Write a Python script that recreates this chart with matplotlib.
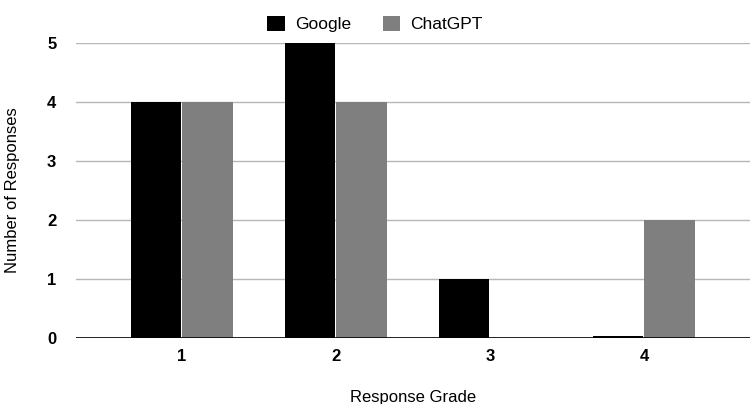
import numpy as np
import matplotlib.pyplot as plt

plt.rcParams['font.family'] = ['Liberation Sans', 'DejaVu Sans']

grades = ['1', '2', '3', '4']
google = [4, 5, 1, 0]
chatgpt = [4, 4, 0, 2]

fig = plt.figure(figsize=(7.5, 4.04), dpi=100)
ax = fig.add_axes([0.101, 0.163, 0.899, 0.731])

x = np.arange(1, len(grades) + 1)
w = 0.333
# zero values still show a thin sliver like the original
g_h = [v if v > 0 else 0.035 for v in google]
c_h = [v if v > 0 else 0.0 for v in chatgpt]
ax.bar(x - w / 2, g_h, width=w * 0.98, color='#000000', label='Google', zorder=3)
ax.bar(x + w / 2, c_h, width=w * 0.98, color='#7f7f7f', label='ChatGPT', zorder=3)

ax.set_xlim(0.5 - 29 / 154, 4.5 + 29 / 154)
ax.set_ylim(0, 5)
ax.set_yticks([0, 1, 2, 3, 4, 5])
ax.set_xticks(x)
ax.set_xticklabels(grades)
ax.yaxis.grid(True, color='#b7b7b7', linewidth=1, zorder=0)
ax.axhline(0, color='black', linewidth=1.2, zorder=4)
for s in ax.spines.values():
    s.set_visible(False)
ax.tick_params(length=0, labelsize=12, pad=8)
for t in ax.get_xticklabels() + ax.get_yticklabels():
    t.set_fontweight('bold')
ax.tick_params(axis='y', pad=14)

ax.set_xlabel('Response Grade', fontsize=12)
ax.xaxis.set_label_coords(0.5, -0.175)
ax.set_ylabel('Number of Responses', fontsize=12)
ax.yaxis.set_label_coords(-0.083, 0.5)

fig.legend(loc='upper center', bbox_to_anchor=(0.5, 1.0), ncol=2, frameon=False,
           fontsize=12.5, handlelength=1.0, handleheight=1.0, columnspacing=1.8,
           handletextpad=0.6)

plt.savefig('out.png')
